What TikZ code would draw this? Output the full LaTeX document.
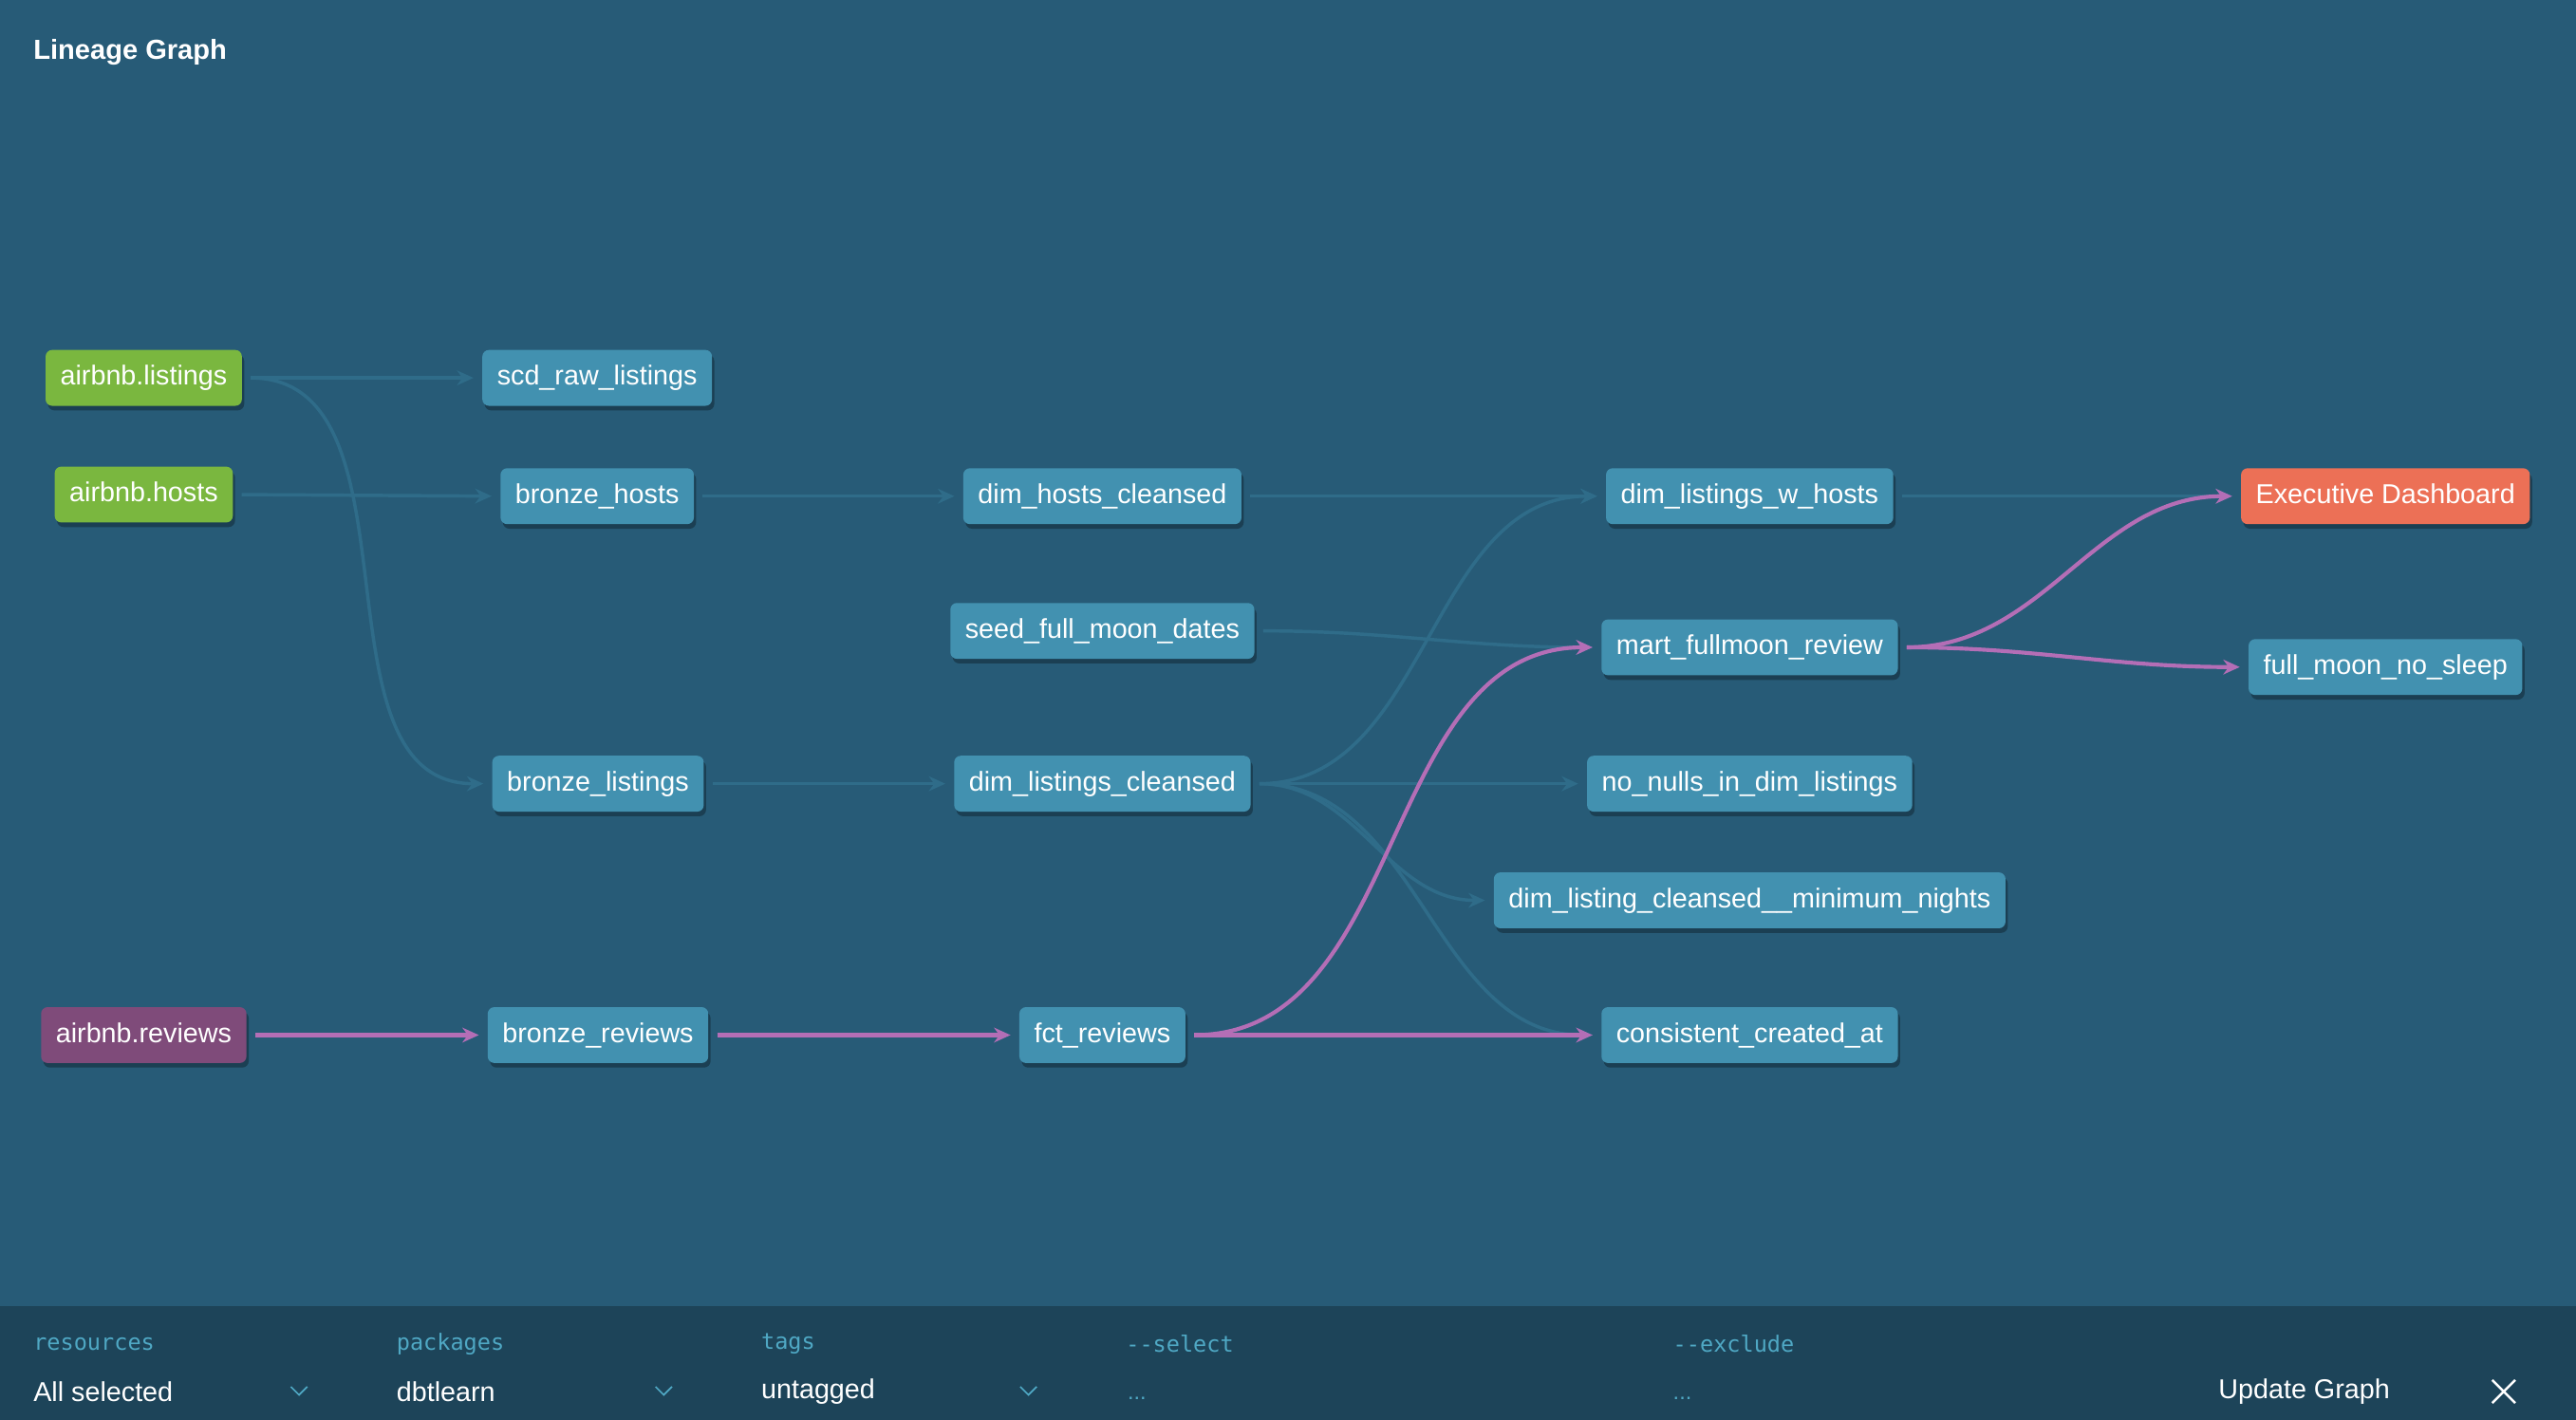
\documentclass[tikz,border=0pt]{standalone}
\usepackage{fontspec}
\setmainfont{Liberation Sans}
\setmonofont{DejaVu Sans Mono}
\usepackage{xcolor}
\usepackage{tikz}
\usetikzlibrary{arrows.meta,shadows,calc}
\definecolor{canvasblue}{RGB}{39,91,119}
\definecolor{barblue}{RGB}{29,68,89}
\definecolor{modelblue}{RGB}{66,145,176}
\definecolor{sourcegreen}{RGB}{122,183,63}
\definecolor{sourcepurple}{RGB}{127,75,122}
\definecolor{exposureorange}{RGB}{236,112,86}
\definecolor{edgeblue}{RGB}{47,108,137}
\definecolor{edgepink}{RGB}{180,110,182}
\definecolor{labelblue}{RGB}{79,168,196}
\pgfdeclarelayer{back}
\pgfdeclarelayer{edges}
\pgfsetlayers{back,edges,main}

\begin{document}
\begin{tikzpicture}[
  x=0.5pt,y=-0.5pt,
  model/.style={rectangle,rounded corners=2pt,fill=modelblue,text=white,
    minimum height=17pt,inner xsep=4.5pt,inner ysep=0pt,
    text height=6.3pt,text depth=1.9pt,
    font=\fontsize{8.3}{10}\selectfont,
    drop shadow={shadow xshift=0.7pt,shadow yshift=-1.4pt,opacity=0.3,fill=black}},
  source/.style={model,fill=sourcegreen},
  srcpurple/.style={model,fill=sourcepurple},
  exposure/.style={model,fill=exposureorange},
  link/.style={draw=edgeblue,line width=1pt,-{Stealth[length=5pt,width=4.5pt]},
    shorten <=2.5pt,shorten >=2.5pt},
  linkhot/.style={link,draw=edgepink,line width=1.2pt},
  barlabel/.style={anchor=west,inner sep=0pt,text=labelblue,
    font=\ttfamily\fontsize{6.8}{8}\selectfont},
  barvalue/.style={anchor=west,inner sep=0pt,text=white,
    font=\fontsize{8.3}{10}\selectfont},
  bardots/.style={anchor=west,inner sep=0pt,text=labelblue,
    font=\fontsize{6.8}{8}\selectfont},
  chev/.style={draw=labelblue,line width=0.5pt}
]
\useasboundingbox (0,0) rectangle (1568,864);
\begin{pgfonlayer}{back}
  \fill[canvasblue] (0,0) rectangle (1568,864);
  \fill[barblue] (0,795) rectangle (1568,864);
\end{pgfonlayer}

\node[anchor=west,inner sep=0pt,text=white,font=\bfseries\fontsize{8.4}{10}\selectfont]
  (title) at (20,32) {Lineage Graph};

% sources
\node[source]    (src_listings) at (87.5,230) {airbnb.listings};
\node[source]    (src_hosts)    at (87.5,301) {airbnb.hosts};
\node[srcpurple] (src_reviews)  at (87.5,630) {airbnb.reviews};
% bronze layer
\node[model] (scd_raw)         at (363.5,230) {scd\_raw\_listings};
\node[model] (bronze_hosts)    at (363.5,302) {bronze\_hosts};
\node[model] (bronze_listings) at (364,477)   {bronze\_listings};
\node[model] (bronze_reviews)  at (364,630)   {bronze\_reviews};
% cleansed layer
\node[model] (dim_hosts)    at (671,302) {dim\_hosts\_cleansed};
\node[model] (seed_moon)    at (671,384) {seed\_full\_moon\_dates};
\node[model] (dim_listings) at (671,477) {dim\_listings\_cleansed};
\node[model] (fct_reviews)  at (671,630) {fct\_reviews};
% marts and tests
\node[model] (dim_lwh)     at (1065,302) {dim\_listings\_w\_hosts};
\node[model] (mart_moon)   at (1065,394) {mart\_fullmoon\_review};
\node[model] (no_nulls)    at (1065,477) {no\_nulls\_in\_dim\_listings};
\node[model] (min_nights)  at (1065,548) {dim\_listing\_cleansed\_\_minimum\_nights};
\node[model] (consistent)  at (1065,630) {consistent\_created\_at};
% exposures
\node[exposure] (exec_dash) at (1452,302) {Executive Dashboard};
\node[model]    (no_sleep)  at (1452,406) {full\_moon\_no\_sleep};

\begin{pgfonlayer}{edges}
  \foreach \s/\t in {src_listings/scd_raw,src_hosts/bronze_hosts,bronze_hosts/dim_hosts,
      dim_hosts/dim_lwh,bronze_listings/dim_listings,dim_listings/no_nulls,dim_lwh/exec_dash}
    \draw[link] (\s.east) -- (\t.west);
  \foreach \s/\t in {src_listings/bronze_listings,dim_listings/dim_lwh,dim_listings/min_nights,
      dim_listings/consistent,seed_moon/mart_moon}
    \draw[link] (\s.east) to[out=0,in=180] (\t.west);
  % highlighted path
  \foreach \s/\t in {src_reviews/bronze_reviews,bronze_reviews/fct_reviews,fct_reviews/consistent}
    \draw[linkhot] (\s.east) -- (\t.west);
  \foreach \s/\t in {fct_reviews/mart_moon,mart_moon/exec_dash,mart_moon/no_sleep}
    \draw[linkhot] (\s.east) to[out=0,in=180] (\t.west);
\end{pgfonlayer}

% bottom bar
\node[barlabel] (lab_res)  at (20,818)   {resources};
\node[barlabel] (lab_pkg)  at (241,818)  {packages};
\node[barlabel] (lab_tags) at (463,818)  {tags};
\node[barlabel] (lab_sel)  at (685,818)  {-{}-select};
\node[barlabel] (lab_exc)  at (1018,818) {-{}-exclude};
\node[barvalue] (val_res)  at (20,847)   {All selected};
\node[barvalue] (val_pkg)  at (241,847)  {dbtlearn};
\node[barvalue] (val_tags) at (463,847)  {untagged};
\node[bardots]  (val_sel)  at (686,851)  {...};
\node[bardots]  (val_exc)  at (1018,851) {...};
\node[barvalue] (update)   at (1350,847) {Update Graph};
\foreach \cx in {182,404,626}
  \draw[chev] (\cx-5,844) -- (\cx,849) -- (\cx+5,844);
\draw[white,line width=0.7pt] (1517,840) -- (1531,854) (1531,840) -- (1517,854);
\end{tikzpicture}
\end{document}
